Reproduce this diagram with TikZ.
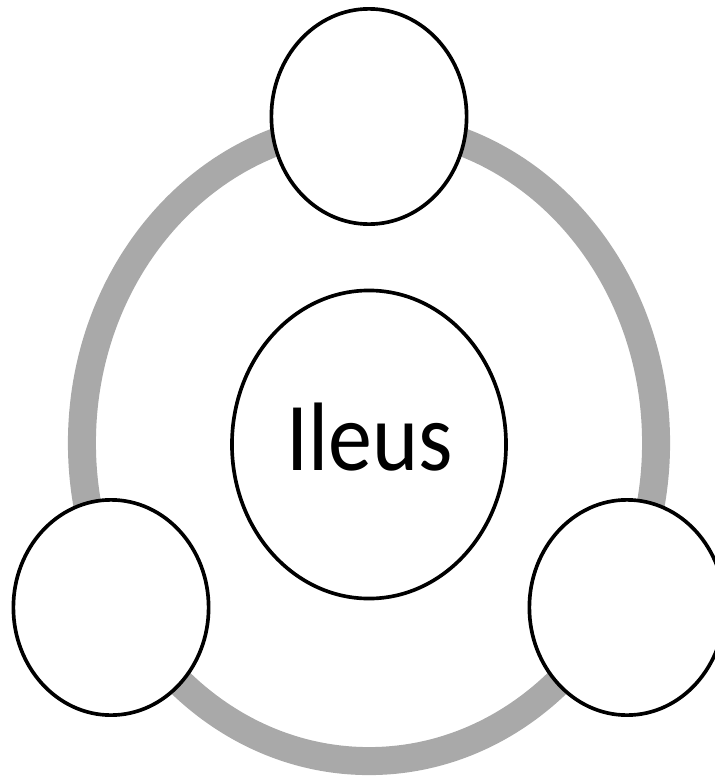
\documentclass[tikz,border=0pt]{standalone}
\usepackage{fontspec}
\setmainfont{Carlito}
\usetikzlibrary{shapes.geometric, positioning}

\definecolor{ringgray}{RGB}{169,169,169}

\begin{document}
\begin{tikzpicture}[
    x=0.025cm, y=-0.025cm,
    ring/.style={
        ellipse, draw=ringgray, line width=0.7cm, fill=none,
        minimum width=14.35cm, minimum height=15.9cm, inner sep=0pt
    },
    hub/.style={
        ellipse, draw=black, line width=2.6pt, fill=white,
        minimum width=6.85cm, minimum height=7.7cm, inner sep=0pt
    },
    satellite/.style={
        ellipse, draw=black, line width=2.6pt, fill=white,
        minimum width=4.88cm, minimum height=5.38cm, inner sep=0pt
    },
    hubtext/.style={
        font=\fontsize{62.5}{70}\selectfont, inner sep=0pt
    }
]
    \useasboundingbox (0,0) rectangle (715,778);

    % --- NODES ---
    \node [ring] (cycle) at (369, 443) {};
    \node [satellite] (sat_top) at (369, 116.5) {};
    \node [satellite] (sat_left) at (111, 607.5) {};
    \node [satellite] (sat_right) at (627, 607.5) {};
    \node [hub] (ileus) at (369, 444.5) {};
    \node [hubtext] (ileus_label) at (370, 437) {\scalebox{1}[1.107]{Ileus}};

\end{tikzpicture}
\end{document}
